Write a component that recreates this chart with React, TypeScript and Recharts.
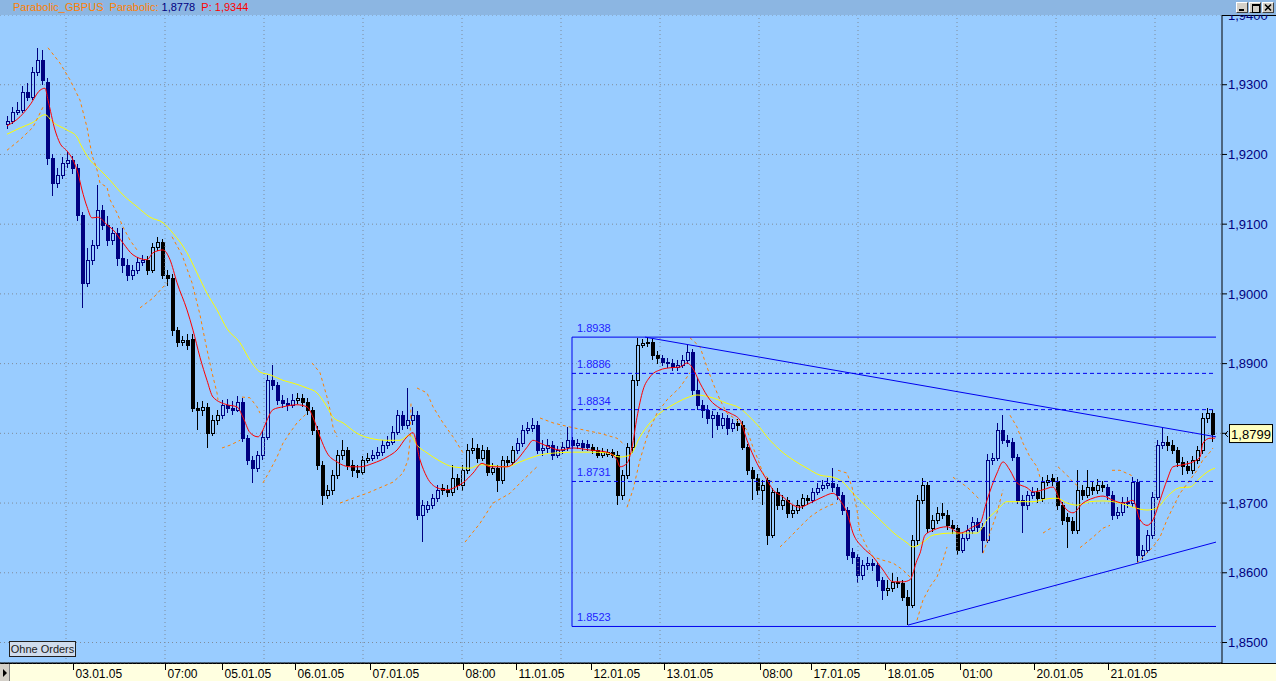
import React from 'react';
import { ComposedChart, Bar, Line, XAxis, YAxis, CartesianGrid, ReferenceLine } from 'recharts';

const opens = [
1.9243,1.9248,1.9261,1.9264,1.9290,1.9282,1.9318,1.9335,1.9304,1.9195,
1.9159,1.9171,1.9188,1.9192,1.9181,1.9113,1.9016,1.9049,1.9070,1.9120,
1.9099,1.9077,1.9087,1.9051,1.9041,1.9027,1.9034,1.9046,1.9049,1.9034,
1.9067,1.9074,1.9027,1.9023,1.8948,1.8931,1.8934,1.8936,1.8836,1.8834,
1.8838,1.8801,1.8819,1.8826,1.8841,1.8836,1.8834,1.8845,1.8793,1.8762,
1.8750,1.8769,1.8795,1.8876,1.8869,1.8848,1.8843,1.8841,1.8848,1.8851,
1.8845,1.8834,1.8805,1.8755,1.8712,1.8719,1.8740,1.8769,1.8776,1.8755,
1.8747,1.8745,1.8762,1.8765,1.8769,1.8773,1.8783,1.8788,1.8802,1.8826,
1.8812,1.8819,1.8826,1.8683,1.8692,1.8697,1.8707,1.8721,1.8719,1.8716,
1.8736,1.8726,1.8747,1.8776,1.8779,1.8765,1.8776,1.8745,1.8750,1.8733,
1.8762,1.8759,1.8776,1.8786,1.8805,1.8808,1.8812,1.8776,1.8779,1.8783,
1.8769,1.8776,1.8780,1.8790,1.8783,1.8786,1.8784,1.8780,1.8776,1.8769,
1.8770,1.8773,1.8769,1.8712,1.8740,1.8780,1.8876,1.8927,1.8930,1.8931,
1.8912,1.8908,1.8902,1.8901,1.8895,1.8898,1.8905,1.8917,1.8862,1.8841,
1.8834,1.8822,1.8826,1.8812,1.8822,1.8808,1.8815,1.8812,1.8780,1.8747,
1.8736,1.8719,1.8733,1.8654,1.8716,1.8697,1.8704,1.8686,1.8690,1.8697,
1.8707,1.8704,1.8716,1.8722,1.8726,1.8729,1.8723,1.8712,1.8690,1.8630,
1.8622,1.8597,1.8611,1.8614,1.8611,1.8590,1.8575,1.8578,1.8587,1.8585,
1.8565,1.8554,1.8647,1.8704,1.8726,1.8664,1.8676,1.8686,1.8683,1.8668,
1.8664,1.8633,1.8650,1.8661,1.8673,1.8666,1.8647,1.8762,1.8765,1.8805,
1.8790,1.8788,1.8766,1.8704,1.8697,1.8712,1.8716,1.8707,1.8730,1.8736,
1.8731,1.8697,1.8680,1.8674,1.8661,1.8719,1.8712,1.8723,1.8719,1.8726,
1.8723,1.8712,1.8683,1.8687,1.8702,1.8700,1.8730,1.8625,1.8633,1.8654,
1.8709,1.8783,1.8788,1.8783,1.8776,1.8759,1.8753,1.8747,1.8762,1.8776,
1.8822,1.8829
];

const highs = [
1.9255,1.9268,1.9275,1.9298,1.9302,1.9326,1.9353,1.9350,1.9310,1.9200,
1.9180,1.9196,1.9203,1.9198,1.9186,1.9118,1.9066,1.9078,1.9156,1.9128,
1.9112,1.9096,1.9094,1.9095,1.9050,1.9042,1.9053,1.9056,1.9054,1.9073,
1.9081,1.9079,1.9034,1.9028,1.8953,1.8940,1.8942,1.8942,1.8845,1.8846,
1.8843,1.8826,1.8833,1.8848,1.8849,1.8846,1.8853,1.8850,1.8798,1.8767,
1.8775,1.8803,1.8884,1.8898,1.8874,1.8855,1.8850,1.8856,1.8858,1.8856,
1.8850,1.8838,1.8810,1.8760,1.8726,1.8748,1.8776,1.8790,1.8781,1.8762,
1.8755,1.8768,1.8772,1.8776,1.8780,1.8790,1.8796,1.8810,1.8833,1.8832,
1.8865,1.8838,1.8832,1.8705,1.8703,1.8713,1.8726,1.8727,1.8726,1.8755,
1.8741,1.8754,1.8784,1.8793,1.8784,1.8783,1.8781,1.8757,1.8755,1.8768,
1.8767,1.8782,1.8793,1.8812,1.8816,1.8822,1.8817,1.8790,1.8792,1.8789,
1.8782,1.8787,1.8809,1.8795,1.8792,1.8791,1.8790,1.8785,1.8780,1.8779,
1.8778,1.8778,1.8774,1.8748,1.8786,1.8884,1.8937,1.8936,1.8938,1.8935,
1.8918,1.8913,1.8908,1.8907,1.8905,1.8912,1.8927,1.8921,1.8880,1.8848,
1.8840,1.8832,1.8831,1.8829,1.8827,1.8821,1.8821,1.8817,1.8784,1.8752,
1.8742,1.8733,1.8738,1.8722,1.8722,1.8712,1.8709,1.8697,1.8704,1.8713,
1.8712,1.8722,1.8729,1.8733,1.8736,1.8750,1.8728,1.8716,1.8695,1.8635,
1.8627,1.8619,1.8622,1.8620,1.8616,1.8594,1.8590,1.8600,1.8594,1.8590,
1.8575,1.8654,1.8712,1.8736,1.8730,1.8683,1.8694,1.8700,1.8690,1.8675,
1.8669,1.8657,1.8668,1.8680,1.8678,1.8671,1.8770,1.8772,1.8815,1.8826,
1.8797,1.8793,1.8770,1.8712,1.8718,1.8723,1.8722,1.8737,1.8740,1.8742,
1.8737,1.8702,1.8686,1.8680,1.8747,1.8726,1.8747,1.8730,1.8734,1.8731,
1.8728,1.8717,1.8694,1.8709,1.8708,1.8737,1.8735,1.8640,1.8662,1.8716,
1.8790,1.8808,1.8796,1.8790,1.8781,1.8766,1.8760,1.8768,1.8782,1.8829,
1.8836,1.8834
];

const lows = [
1.9236,1.9244,1.9256,1.9259,1.9276,1.9278,1.9312,1.9300,1.9185,1.9141,
1.9152,1.9165,1.9180,1.9172,1.9105,1.8980,1.9010,1.9041,1.9065,1.9092,
1.9068,1.9070,1.9040,1.9030,1.9018,1.9020,1.9029,1.9040,1.9027,1.9030,
1.9062,1.9022,1.9012,1.8940,1.8924,1.8925,1.8920,1.8830,1.8805,1.8825,
1.8779,1.8796,1.8812,1.8820,1.8829,1.8826,1.8830,1.8788,1.8755,1.8729,
1.8744,1.8762,1.8790,1.8862,1.8840,1.8836,1.8832,1.8836,1.8842,1.8838,
1.8826,1.8798,1.8748,1.8697,1.8706,1.8712,1.8735,1.8762,1.8748,1.8738,
1.8736,1.8740,1.8757,1.8760,1.8763,1.8768,1.8778,1.8783,1.8798,1.8805,
1.8806,1.8812,1.8676,1.8644,1.8686,1.8692,1.8702,1.8712,1.8708,1.8710,
1.8719,1.8718,1.8742,1.8770,1.8758,1.8760,1.8739,1.8740,1.8716,1.8728,
1.8752,1.8754,1.8771,1.8780,1.8799,1.8802,1.8770,1.8768,1.8772,1.8762,
1.8764,1.8770,1.8775,1.8777,1.8778,1.8774,1.8774,1.8770,1.8764,1.8765,
1.8766,1.8764,1.8697,1.8705,1.8734,1.8772,1.8868,1.8922,1.8924,1.8905,
1.8900,1.8896,1.8894,1.8889,1.8890,1.8893,1.8900,1.8855,1.8834,1.8822,
1.8814,1.8793,1.8805,1.8806,1.8797,1.8802,1.8804,1.8776,1.8740,1.8704,
1.8712,1.8697,1.8640,1.8650,1.8690,1.8690,1.8679,1.8678,1.8684,1.8692,
1.8697,1.8700,1.8711,1.8717,1.8720,1.8716,1.8705,1.8683,1.8618,1.8612,
1.8585,1.8590,1.8604,1.8603,1.8580,1.8561,1.8566,1.8572,1.8578,1.8560,
1.8525,1.8550,1.8640,1.8698,1.8657,1.8658,1.8670,1.8677,1.8661,1.8656,
1.8626,1.8628,1.8645,1.8656,1.8659,1.8628,1.8642,1.8755,1.8760,1.8784,
1.8780,1.8760,1.8698,1.8657,1.8690,1.8706,1.8700,1.8702,1.8725,1.8724,
1.8690,1.8668,1.8636,1.8655,1.8656,1.8705,1.8707,1.8712,1.8713,1.8716,
1.8705,1.8676,1.8677,1.8682,1.8693,1.8695,1.8614,1.8618,1.8628,1.8648,
1.8704,1.8778,1.8775,1.8770,1.8752,1.8740,1.8742,1.8742,1.8756,1.8770,
1.8815,1.8788
];

const closes = [
1.9248,1.9261,1.9264,1.9290,1.9282,1.9318,1.9335,1.9307,1.9195,1.9159,
1.9171,1.9188,1.9192,1.9181,1.9113,1.9016,1.9049,1.9070,1.9120,1.9099,
1.9077,1.9087,1.9051,1.9041,1.9027,1.9034,1.9046,1.9049,1.9034,1.9067,
1.9074,1.9027,1.9023,1.8948,1.8931,1.8934,1.8927,1.8836,1.8834,1.8838,
1.8801,1.8819,1.8826,1.8841,1.8836,1.8834,1.8845,1.8793,1.8762,1.8750,
1.8769,1.8795,1.8876,1.8869,1.8848,1.8843,1.8841,1.8848,1.8851,1.8845,
1.8834,1.8805,1.8755,1.8712,1.8719,1.8740,1.8769,1.8776,1.8755,1.8747,
1.8745,1.8762,1.8765,1.8769,1.8773,1.8783,1.8788,1.8802,1.8826,1.8812,
1.8819,1.8826,1.8683,1.8697,1.8697,1.8707,1.8719,1.8719,1.8716,1.8736,
1.8726,1.8747,1.8776,1.8779,1.8765,1.8776,1.8745,1.8750,1.8733,1.8762,
1.8759,1.8776,1.8786,1.8805,1.8808,1.8812,1.8776,1.8779,1.8783,1.8769,
1.8776,1.8780,1.8790,1.8783,1.8786,1.8780,1.8780,1.8776,1.8769,1.8773,
1.8773,1.8769,1.8712,1.8740,1.8780,1.8876,1.8927,1.8930,1.8931,1.8912,
1.8908,1.8902,1.8901,1.8895,1.8898,1.8905,1.8917,1.8862,1.8841,1.8834,
1.8822,1.8826,1.8812,1.8822,1.8808,1.8815,1.8812,1.8780,1.8747,1.8736,
1.8719,1.8726,1.8654,1.8716,1.8697,1.8704,1.8686,1.8690,1.8697,1.8707,
1.8704,1.8716,1.8722,1.8726,1.8729,1.8723,1.8712,1.8690,1.8625,1.8622,
1.8597,1.8611,1.8614,1.8611,1.8590,1.8575,1.8578,1.8587,1.8585,1.8565,
1.8554,1.8647,1.8704,1.8726,1.8664,1.8676,1.8686,1.8683,1.8668,1.8664,
1.8633,1.8650,1.8661,1.8673,1.8666,1.8647,1.8762,1.8765,1.8805,1.8790,
1.8788,1.8766,1.8704,1.8697,1.8712,1.8716,1.8707,1.8730,1.8733,1.8731,
1.8697,1.8676,1.8674,1.8661,1.8719,1.8712,1.8723,1.8719,1.8726,1.8723,
1.8712,1.8683,1.8687,1.8702,1.8700,1.8730,1.8625,1.8633,1.8654,1.8709,
1.8783,1.8788,1.8783,1.8776,1.8759,1.8753,1.8747,1.8762,1.8776,1.8822,
1.8829,1.8799
];

// first candle index of each trading session (colours alternate navy / black)
const sessionStarts = [0, 28, 43, 58, 73, 87, 102, 117, 131, 146, 161, 176, 191, 206, 220, 232];

// fast moving average (red) [candle index, price]
const fastMA: [number, number][] = [
[0,1.9241],[2.6,1.9254],[4.6,1.9271],[6.6,1.9292],[7.6,1.9295],[8.2,1.9278],[9.6,1.9235],[10.6,1.9216],
[12,1.9205],[13.2,1.9192],[14.2,1.9173],[15,1.9149],[16,1.9125],[17,1.9109],[18.2,1.9110],[20,1.9099],
[21.2,1.9092],[23.2,1.9073],[25.2,1.9056],[28,1.9049],[29.2,1.9059],[31.2,1.9063],[32.6,1.9049],[34,1.9016],
[36,1.8977],[37.2,1.8948],[38.6,1.8909],[40,1.8876],[41.2,1.8852],[44,1.8841],[46,1.8838],[47.2,1.8823],
[48.6,1.8801],[50.2,1.8795],[51.2,1.8805],[52,1.8819],[53.2,1.8834],[55.2,1.8838],[58,1.8841],[60,1.8838],
[61.2,1.8823],[62.6,1.8795],[64,1.8772],[66,1.8759],[68.6,1.8752],[70.6,1.8752],[73.2,1.8757],[76,1.8766],
[78,1.8776],[80,1.8795],[81.2,1.8801],[82.6,1.8762],[84,1.8737],[86,1.8722],[88,1.8719],[90,1.8724],
[91.2,1.8729],[93.2,1.8743],[95,1.8757],[96.6,1.8752],[100,1.8752],[102,1.8762],[104,1.8780],[105.2,1.8790],
[106.6,1.8786],[108.6,1.8780],[110.6,1.8776],[113.2,1.8779],[116.6,1.8776],[120,1.8773],[122,1.8762],[122.6,1.8752],
[124,1.8757],[125,1.8780],[126,1.8823],[127.2,1.8862],[128.6,1.8881],[130.6,1.8891],[132.6,1.8894],[134.6,1.8895],
[136,1.8901],[137,1.8895],[138.6,1.8872],[140.6,1.8848],[142.6,1.8836],[144.6,1.8829],[146.6,1.8819],[148,1.8790],
[150,1.8757],[152,1.8733],[153.2,1.8719],[155.2,1.8709],[156.6,1.8700],[158.6,1.8694],[160.6,1.8700],[163.2,1.8709],
[165.2,1.8714],[166.6,1.8704],[168,1.8686],[169.2,1.8657],[171.2,1.8636],[173.2,1.8623],[175.2,1.8604],[177.2,1.8587],
[179.2,1.8587],[180.6,1.8590],[182,1.8618],[182.6,1.8628],[183.6,1.8654],[185.2,1.8661],[188,1.8666],[190.6,1.8657],
[193.2,1.8666],[194.6,1.8671],[196,1.8704],[198,1.8743],[199.2,1.8759],[200.6,1.8747],[202,1.8729],[204,1.8722],
[205.2,1.8716],[207.2,1.8719],[209.2,1.8723],[210.6,1.8704],[212,1.8690],[213.2,1.8686],[215.2,1.8700],[217.2,1.8707],
[219.2,1.8710],[221.2,1.8704],[223.2,1.8700],[225.2,1.8704],[226.6,1.8676],[228,1.8668],[229.2,1.8676],[230.6,1.8704],
[232,1.8733],[233.2,1.8752],[235.2,1.8755],[237.2,1.8759],[238.6,1.8766],[239.2,1.8786],[240.6,1.8793],[241.6,1.8793]
];

// slow moving average (yellow) [candle index, price]
const slowMA: [number, number][] = [
[0,1.9229],[2.6,1.9238],[5.2,1.9246],[7.6,1.9257],[9.2,1.9246],[12,1.9235],[14,1.9225],[14.6,1.9216],
[16.6,1.9192],[18.6,1.9178],[20.6,1.9163],[23.2,1.9142],[26,1.9125],[28.6,1.9110],[31.2,1.9102],[33.2,1.9087],
[36,1.9059],[38,1.9030],[40,1.9001],[42,1.8977],[44,1.8950],[46.6,1.8930],[48.6,1.8905],[50.6,1.8888],
[52.6,1.8884],[55.2,1.8876],[57.2,1.8872],[60,1.8865],[62,1.8858],[64,1.8838],[65.2,1.8823],[67.2,1.8815],
[70,1.8800],[72.6,1.8793],[76,1.8790],[78.6,1.8790],[80.6,1.8798],[82,1.8783],[84,1.8772],[86.6,1.8760],
[89.2,1.8752],[92.6,1.8750],[94.6,1.8755],[100,1.8752],[102.6,1.8759],[105.2,1.8766],[106.6,1.8769],[110,1.8772],
[113.2,1.8773],[116.6,1.8773],[120,1.8772],[122.6,1.8766],[124.6,1.8769],[126.6,1.8795],[128.6,1.8815],[130.6,1.8829],
[133.2,1.8841],[136,1.8851],[138,1.8855],[140.6,1.8852],[144,1.8843],[146.6,1.8836],[148.6,1.8823],[150.6,1.8808],
[152,1.8795],[154.6,1.8776],[157.2,1.8762],[160,1.8750],[162.6,1.8740],[165.2,1.8737],[167.2,1.8730],[169.2,1.8714],
[172,1.8694],[174.6,1.8676],[177.2,1.8658],[180,1.8643],[181.2,1.8637],[183.2,1.8644],[185.2,1.8654],[189.2,1.8657],
[194,1.8657],[196,1.8676],[198,1.8690],[200,1.8702],[202.6,1.8702],[205.2,1.8702],[208,1.8706],[210,1.8707],
[212,1.8700],[214,1.8697],[216.6,1.8702],[219.2,1.8703],[222.6,1.8700],[225.2,1.8694],[228,1.8690],[230,1.8693],
[232,1.8709],[234.6,1.8722],[236.6,1.8723],[238.6,1.8736],[240.6,1.8747],[241.6,1.8750]
];

// parabolic SAR, one list per trend leg [candle index, price]
const sarLegs: [number, number][][] = [
[[0,1.9206],[2.6,1.9221],[5.2,1.9239],[7.2,1.9268]],
[[8.2,1.9353],[10.6,1.9331],[12.6,1.9307],[14.6,1.9278],[16,1.9239],[17,1.9199],[18,1.9178],[18.6,1.9159],[20,1.9153],[20.6,1.9135],[22,1.9116],[23.2,1.9096],[24.6,1.9077],[26,1.9063]],
[[26.6,1.8980],[29.2,1.8994],[32,1.9016]],
[[33,1.9082],[35,1.9056],[37,1.9016],[38.6,1.8970],[39.2,1.8948],[40,1.8920],[41,1.8887],[42,1.8858],[42.2,1.8848]],
[[43,1.8779],[44.6,1.8783],[46.6,1.8790]],
[[47,1.8852],[48.6,1.8851],[50,1.8838],[50.6,1.8829]],
[[51.2,1.8729],[52.6,1.8747],[54,1.8766],[55.2,1.8786],[56.6,1.8801],[58,1.8815],[60,1.8829]],
[[61,1.8901],[62.6,1.8887],[63.2,1.8872],[64,1.8852],[64.6,1.8834],[65.2,1.8809],[66,1.8795]],
[[66.6,1.8700],[69.2,1.8707],[72,1.8714],[74.6,1.8722],[77.2,1.8730],[79.2,1.8743],[80.2,1.8762],[80.6,1.8790],[80.8,1.8843]],
[[82,1.8865],[84,1.8858],[85.2,1.8838],[87.2,1.8815],[89.2,1.8795],[90.6,1.8779],[91.2,1.8772]],
[[91.6,1.8644],[94.6,1.8671],[97.2,1.8700],[100.6,1.8714],[103.2,1.8733],[106,1.8752]],
[[106.6,1.8822],[109.2,1.8815],[112,1.8810],[114.6,1.8806],[118.6,1.8800],[122,1.8793],[123.6,1.8783]],
[[124,1.8694],[125.2,1.8719],[126.6,1.8762],[128.2,1.8800],[130,1.8829],[132,1.8848],[134.6,1.8866],[136.6,1.8887]],
[[136.6,1.8937],[138.6,1.8924],[140,1.8895],[141.2,1.8872],[142.6,1.8848],[144,1.8829],[146,1.8819],[148,1.8805],[149.2,1.8780],[150,1.8766],[151.2,1.8743],[153.2,1.8729]],
[[154.6,1.8637],[156.6,1.8651],[158.6,1.8666],[160.6,1.8680],[162.6,1.8690],[164.6,1.8697],[166,1.8700]],
[[166.2,1.8747],[168,1.8743],[169,1.8723],[170,1.8690],[170.6,1.8657],[172,1.8637],[173.2,1.8623],[175.2,1.8618],[177.2,1.8614],[179.2,1.8604],[180.6,1.8594]],
[[182,1.8532],[183.2,1.8561],[184.6,1.8580],[186,1.8594],[187.2,1.8618],[188,1.8637]],
[[189.2,1.8737],[192,1.8723],[194,1.8709],[194.6,1.8704]],
[[195.2,1.8628],[196.6,1.8657],[198,1.8686],[199.2,1.8719]],
[[200.6,1.8826],[202,1.8809],[203.2,1.8786],[204.6,1.8766],[206,1.8752],[206.6,1.8737]],
[[207.2,1.8657],[209.2,1.8666]],
[[210.2,1.8752],[212,1.8740],[213.2,1.8730],[214.6,1.8722]],
[[214.6,1.8636],[217.2,1.8651],[219.2,1.8664],[220.6,1.8668]],
[[221,1.8747],[222.6,1.8747],[224.8,1.8740],[225.2,1.8737]],
[[226,1.8614],[227.2,1.8623],[229.2,1.8637],[230.6,1.8651],[232,1.8676],[233.2,1.8694],[234.6,1.8714],[236.6,1.8733],[238,1.8747],[239.2,1.8762],[240.6,1.8773],[241.2,1.8779]]
];

// retracement box levels
const boxStart = 113;
const boxEnd = 241.8;
const boxTop = 1.8938;
const boxBottom = 1.8523;
const boxDashed = [1.8886, 1.8834, 1.8731];

// trend lines [[i1, p1], [i2, p2]]
const trendLines: [number, number][][] = [
  [[127.6, 1.8938], [241.8, 1.8795]],
  [[180.2, 1.8525], [241.8, 1.8644]],
];

const priceTicks = [1.85, 1.86, 1.87, 1.88, 1.89, 1.90, 1.91, 1.92, 1.93, 1.94];
const timeGrid = [11.8, 31.6, 51.4, 71.2, 91, 110.8, 130.6, 150.4, 170.2, 190, 209.8, 229.6];
const timeTickPos = [13.2, 31.6, 43, 57.6, 72.6, 91.2, 101.8, 116.8, 131.4, 150.6, 160.8, 175.6, 190.6, 205.4, 220.2];
const timeTickLabels = ['03.01.05', '07:00', '05.01.05', '06.01.05', '07.01.05', '08:00', '11.01.05', '12.01.05', '13.01.05', '08:00', '17.01.05', '18.01.05', '01:00', '20.01.05', '21.01.05'];

const lastPrice = 1.8799;

const NAVY = '#000080';
const BLUE_LINE = '#0000EE';
const ORANGE = '#FF8000';
const FONT = '"Liberation Sans", Arial, sans-serif';

const sessionOf = (i: number) => {
  let s = 0;
  for (let k = 0; k < sessionStarts.length; k++) if (i >= sessionStarts[k]) s = k;
  return s;
};

const candles = closes.map((c, i) => ({
  i,
  open: opens[i],
  high: highs[i],
  low: lows[i],
  close: c,
  range: [lows[i], highs[i]],
  color: sessionOf(i) % 2 === 0 ? NAVY : '#000000',
}));

const Candle = (props: any) => {
  const { x, y, width, height, payload } = props;
  if (!payload || height == null) return null;
  const { open, close, high, low, color } = payload;
  const span = high - low;
  const ratio = span > 0 ? height / span : 0;
  const yO = y + (high - open) * ratio;
  const yC = y + (high - close) * ratio;
  const cx = Math.round(x + width / 2) + 0.5;
  const top = Math.round(Math.min(yO, yC)) + 0.5;
  const bot = Math.max(Math.round(Math.max(yO, yC)) + 0.5, top + 1);
  const up = close >= open;
  return (
    <g shapeRendering="crispEdges">
      <line x1={cx} x2={cx} y1={y} y2={top} stroke={color} strokeWidth={1} />
      <line x1={cx} x2={cx} y1={bot} y2={y + height} stroke={color} strokeWidth={1} />
      <rect x={cx - 1.5} y={top} width={3} height={bot - top} fill={up ? 'none' : color} stroke={color} strokeWidth={1} />
    </g>
  );
};

const TimeTick = (props: any) => {
  const { x, y, payload } = props;
  let k = 0;
  let best = Infinity;
  timeTickPos.forEach((p, j) => {
    const d = Math.abs(p - payload.value);
    if (d < best) { best = d; k = j; }
  });
  const px = Math.round(x) + 0.5;
  return (
    <g>
      <line x1={px} x2={px} y1={y} y2={y + 7} stroke="#000" strokeWidth={1} shapeRendering="crispEdges" />
      <text x={px + 2} y={y + 15} fontSize={12} fontFamily={FONT} fill="#000">{timeTickLabels[k]}</text>
    </g>
  );
};

const levelLabel = (text: string) => (props: any) => {
  const vb = props.viewBox || {};
  return (
    <text x={(vb.x || 0) + 5} y={(vb.y || 0) - 5} fontSize={11} fontFamily={FONT} fill="#2222FF">{text}</text>
  );
};

const PriceTag = (props: any) => {
  const vb = props.viewBox || {};
  const x0 = (vb.x || 0) + (vb.width || 0);
  const y0 = vb.y || 0;
  return (
    <g>
      <polyline points={`${x0 + 6},${y0 - 3} ${x0 + 3},${y0} ${x0 + 6},${y0 + 3}`} fill="none" stroke="#000" />
      <rect x={x0 + 7.5} y={y0 - 9.5} width={43} height={18} fill="#FFFFC0" stroke="#000" />
      <text x={x0 + 29} y={y0 + 4.5} textAnchor="middle" fontSize={13} fontFamily={FONT} fill="#000">
        {lastPrice.toFixed(4).replace('.', ',')}
      </text>
    </g>
  );
};

// the 1,8800 label sits under the last-price tag, as in the terminal
const fmtPrice = (v: number) => (Math.abs(v - 1.88) < 1e-6 ? '' : v.toFixed(4).replace('.', ','));

const winBtn: React.CSSProperties = {
  position: 'absolute', top: 2, width: 12, height: 11, background: '#D4D0C8',
  border: '1px solid', borderColor: '#fff #404040 #404040 #fff', boxSizing: 'border-box',
};

export default function App() {
  return (
    <div style={{ position: 'relative', width: 1276, height: 681, background: '#99CCFF', overflow: 'hidden', fontFamily: FONT }}>
      <style>{`body{margin:0;}`}</style>
      {/* time axis strip */}
      <div style={{ position: 'absolute', left: 0, top: 663, width: 1276, height: 18, background: '#FFFFE0', borderTop: '1px solid #000', boxSizing: 'border-box' }} />
      <div style={{ position: 'absolute', left: 0, top: 664, width: 10, height: 17, background: '#D4D0C8', borderRight: '1px solid #808080', boxSizing: 'border-box' }}>
        <div style={{ position: 'absolute', left: 3, top: 5, width: 0, height: 0, borderTop: '4px solid transparent', borderBottom: '4px solid transparent', borderLeft: '4px solid #000' }} />
      </div>
      <div style={{ position: 'absolute', left: 1222, top: 15, width: 54, height: 648, borderTop: '1px solid #000', boxSizing: 'border-box' }} />
      <div style={{ position: 'absolute', left: 0, top: 0 }}>
        <ComposedChart width={1276} height={681} data={candles} margin={{ top: 15, right: 0, bottom: 0, left: 0 }}>
          <CartesianGrid vertical={false} stroke="#7F8C9C" strokeDasharray="1 3" />
          <XAxis
            dataKey="i"
            type="number"
            domain={[-1.4, 243]}
            allowDataOverflow
            ticks={timeTickPos}
            interval={0}
            tick={<TimeTick />}
            tickLine={false}
            tickSize={0}
            tickMargin={0}
            axisLine={{ stroke: '#000' }}
            height={18}
          />
          <YAxis
            orientation="right"
            type="number"
            domain={[1.84706, 1.94]}
            allowDataOverflow
            ticks={priceTicks}
            interval={0}
            tickFormatter={fmtPrice}
            width={54}
            tickSize={5}
            tickMargin={1}
            tick={{ fill: NAVY, fontSize: 13, fontFamily: FONT }}
            tickLine={{ stroke: '#000' }}
            axisLine={{ stroke: '#000' }}
          />
          {timeGrid.map((g) => (
            <ReferenceLine key={`g${g}`} x={g} stroke="#7F8C9C" strokeDasharray="1 3" />
          ))}
          <Bar dataKey="range" barSize={4} shape={<Candle />} isAnimationActive={false} />
          <Line data={slowMA.map(([i, v]) => ({ i, v }))} dataKey="v" type="monotone" stroke="#FFFF00" strokeWidth={1} dot={false} activeDot={false} isAnimationActive={false} />
          <Line data={fastMA.map(([i, v]) => ({ i, v }))} dataKey="v" type="monotone" stroke="#FF0000" strokeWidth={1} dot={false} activeDot={false} isAnimationActive={false} />
          {sarLegs.map((leg, k) => (
            <Line key={`sar${k}`} data={leg.map(([i, v]) => ({ i, v }))} dataKey="v" type="linear" stroke={ORANGE} strokeWidth={1} strokeDasharray="3 3" dot={false} activeDot={false} isAnimationActive={false} />
          ))}
          <ReferenceLine segment={[{ x: boxStart, y: boxTop }, { x: boxEnd, y: boxTop }]} stroke={BLUE_LINE} strokeWidth={1} label={levelLabel(boxTop.toFixed(4))} />
          {boxDashed.map((lv) => (
            <ReferenceLine key={`d${lv}`} segment={[{ x: boxStart, y: lv }, { x: boxEnd, y: lv }]} stroke={BLUE_LINE} strokeWidth={1} strokeDasharray="4 3" label={levelLabel(lv.toFixed(4))} />
          ))}
          <ReferenceLine segment={[{ x: boxStart, y: boxBottom }, { x: boxEnd, y: boxBottom }]} stroke={BLUE_LINE} strokeWidth={1} label={levelLabel(boxBottom.toFixed(4))} />
          <ReferenceLine segment={[{ x: boxStart, y: boxTop }, { x: boxStart, y: boxBottom }]} stroke={BLUE_LINE} strokeWidth={1} />
          {trendLines.map((t, k) => (
            <ReferenceLine key={`t${k}`} segment={[{ x: t[0][0], y: t[0][1] }, { x: t[1][0], y: t[1][1] }]} stroke={BLUE_LINE} strokeWidth={1} />
          ))}
          <ReferenceLine y={lastPrice} stroke="none" label={<PriceTag />} />
        </ComposedChart>
      </div>
      {/* title bar */}
      <div style={{ position: 'absolute', left: 0, top: 0, width: 1276, height: 15, background: '#8CB6E2', fontSize: 11, lineHeight: '15px', whiteSpace: 'pre', paddingLeft: 13, boxSizing: 'border-box' }}>
        <span style={{ color: ORANGE }}>Parabolic_GBPUS  Parabolic: </span>
        <span style={{ color: NAVY }}>1,8778</span>
        <span>  </span>
        <span style={{ color: '#FF0000' }}>P: 1,9344</span>
      </div>
      <div style={{ ...winBtn, left: 1236 }}>
        <div style={{ position: 'absolute', left: 2, top: 6, width: 5, height: 2, background: '#000' }} />
      </div>
      <div style={{ ...winBtn, left: 1249 }}>
        <div style={{ position: 'absolute', left: 2, top: 1, width: 6, height: 6, border: '1px solid #000', borderTopWidth: 2 }} />
      </div>
      <div style={{ ...winBtn, left: 1262 }}>
        <svg width={10} height={9} style={{ position: 'absolute', left: 0, top: 0 }}>
          <path d="M2 1.5 L8 7.5 M8 1.5 L2 7.5" stroke="#000" strokeWidth={1.6} />
        </svg>
      </div>
      {/* orders badge */}
      <div style={{ position: 'absolute', left: 9, top: 641, width: 67, height: 16, background: '#D0DCEC', border: '1px solid #202020', boxSizing: 'border-box', fontSize: 11, lineHeight: '14px', textAlign: 'center', color: '#202020' }}>
        Ohne Orders
      </div>
    </div>
  );
}
